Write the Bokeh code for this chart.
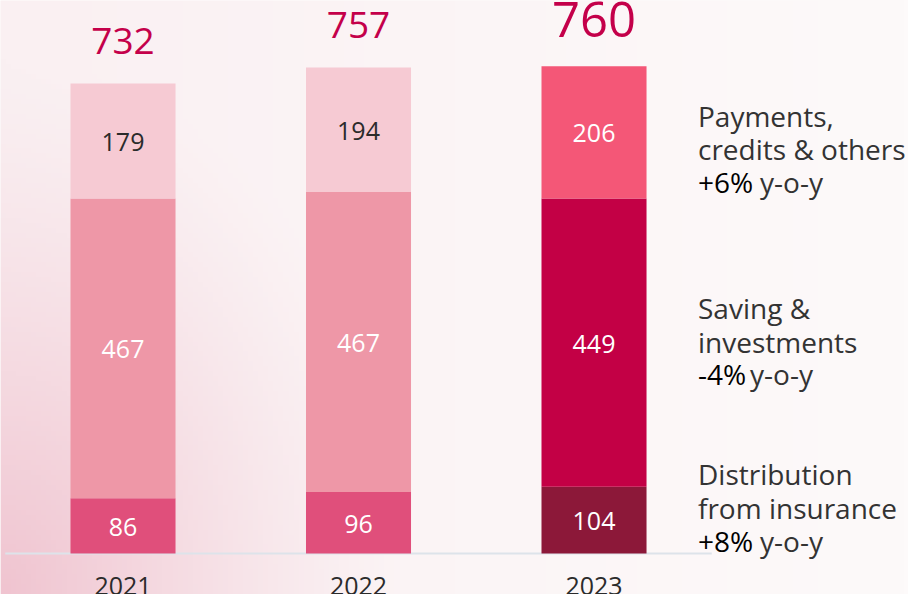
import numpy as np
from bokeh.plotting import figure
from bokeh.models import Range1d, ColumnDataSource
from bokeh.core.properties import value
from bokeh.embed import file_html
from bokeh.resources import INLINE

# ---- data ----
years = ["2021", "2022", "2023"]
insurance = [86, 96, 104]
saving = [467, 467, 449]
payments = [179, 194, 206]
totals = [732, 757, 760]

series_names = ["Distribution\nfrom insurance", "Saving &\ninvestments", "Payments,\ncredits & others"]
yoy_change = ["+8%", "-4%", "+6%"]

# ---- styles ----
FONT = value("Open Sans")
ins_colors = ["#e04f7b", "#e04f7b", "#8c1839"]
sav_colors = ["#ee97a7", "#ee97a7", "#c30045"]
pay_colors = ["#f6cad3", "#f6cad3", "#f45777"]
ins_text = ["white", "white", "white"]
sav_text = ["white", "white", "white"]
pay_text = ["#2b2b2b", "#2b2b2b", "white"]
TOTAL_COLOR = "#c4004a"

W, H = 908, 594
xs = list(range(len(years)))
x0, x1 = -0.5202, 3.3354
y0, y1 = -63.8, 861.4

p = figure(width=W, height=H, x_range=Range1d(x0, x1), y_range=Range1d(y0, y1),
           x_axis_type=None, y_axis_type=None, output_backend="svg",
           toolbar_location=None, min_border=0)
p.grid.visible = False
p.outline_line_color = None
p.background_fill_color = "#fcf6f6"
p.border_fill_color = "#fcf6f6"

# background gradient (decoration)
ny, nx = 120, 180
gx = np.linspace(0, 1, nx)[None, :]
gy = np.linspace(0, 1, ny)[:, None]  # 0 bottom, 1 top
base = np.stack([
    250 + 3 * gx + 0 * gy,
    240 + 10 * gx + 0 * gy,
    242 + 8 * gx + 0 * gy,
], axis=-1)
d = np.sqrt((gx / 0.45) ** 2 + (gy / 0.9) ** 2)
w = np.clip(1 - d, 0, 1) ** 1.3
pink = np.array([240, 196, 208])
img = base * (1 - w[..., None]) + pink * w[..., None]
rgba = np.zeros((ny, nx), dtype=np.uint32)
view = rgba.view(dtype=np.uint8).reshape((ny, nx, 4))
view[..., 0] = img[..., 0].astype(np.uint8)
view[..., 1] = img[..., 1].astype(np.uint8)
view[..., 2] = img[..., 2].astype(np.uint8)
view[..., 3] = 255
p.image_rgba(image=[rgba], x=x0, y=y0, dw=x1 - x0, dh=y1 - y0)

# baseline
p.segment(x0=[-0.5], y0=[0], x1=[len(years) - 0.5], y1=[0], line_color="#dde3ea", line_width=2)

ins_top = [a for a in insurance]
sav_top = [a + b for a, b in zip(insurance, saving)]
pay_top = [a + b + c for a, b, c in zip(insurance, saving, payments)]

src = ColumnDataSource(dict(
    x=xs,
    ins_b=[0] * len(xs), ins_t=ins_top, ins_mid=[(0 + t) / 2 for t in ins_top],
    sav_b=ins_top, sav_t=sav_top, sav_mid=[(a + b) / 2 for a, b in zip(ins_top, sav_top)],
    pay_b=sav_top, pay_t=pay_top, pay_mid=[(a + b) / 2 for a, b in zip(sav_top, pay_top)],
    ins=[str(v) for v in insurance], sav=[str(v) for v in saving], pay=[str(v) for v in payments],
    ins_c=ins_colors, sav_c=sav_colors, pay_c=pay_colors,
    ins_tc=ins_text, sav_tc=sav_text, pay_tc=pay_text,
    year=years, zero=[0] * len(xs),
))

BW = 0.446
for seg in ["ins", "sav", "pay"]:
    p.vbar(x="x", bottom=seg + "_b", top=seg + "_t", width=BW, source=src,
           fill_color=seg + "_c", line_color=None)
    p.text(x="x", y=seg + "_mid", text=seg, source=src, text_font=FONT,
           text_font_size="25px", text_color=seg + "_tc", text_align="center",
           text_baseline="alphabetic", y_offset=1)

# totals
tot1 = ColumnDataSource(dict(x=xs[:2], y=pay_top[:2], t=[str(v) for v in totals[:2]]))
p.text(x="x", y="y", text="t", source=tot1, text_font=FONT, text_font_size="37px",
       text_color=TOTAL_COLOR, text_align="center", text_baseline="alphabetic", y_offset=-43)
tot2 = ColumnDataSource(dict(x=xs[2:], y=pay_top[2:], t=[str(v) for v in totals[2:]]))
p.text(x="x", y="y", text="t", source=tot2, text_font=FONT, text_font_size="49px",
       text_color=TOTAL_COLOR, text_align="center", text_baseline="alphabetic", y_offset=-47)

# year labels
p.text(x="x", y="zero", text="year", source=src, text_font=FONT, text_font_size="25px",
       text_color="#2b2b2b", text_align="center", text_baseline="alphabetic", y_offset=32)

# right-side series labels, anchored to the 2023 segments
last = len(years) - 1
anchors = [src.data["ins_mid"][last], src.data["sav_mid"][last], src.data["pay_mid"][last]]
line_offsets = [(-46, -12, 21), (-35, -1, 31), (-16, 17, 50)]
yoy_dx = [62, 52, 62]
LX = 104
for name, chg, yv, offs, dx in zip(series_names, yoy_change, anchors, line_offsets, yoy_dx):
    l1, l2 = name.split("\n")
    for txt, off in [(l1, offs[0]), (l2, offs[1])]:
        p.text(x=[last], y=[yv], text=[txt], text_font=FONT, text_font_size="28px",
               text_color="#333333", text_align="left", text_baseline="alphabetic",
               x_offset=LX, y_offset=off)
    p.text(x=[last], y=[yv], text=[chg], text_font=FONT, text_font_size="28px",
           text_color="#000000", text_align="left", text_baseline="alphabetic",
           x_offset=LX, y_offset=offs[2])
    p.text(x=[last], y=[yv], text=["y-o-y"], text_font=FONT, text_font_size="28px",
           text_color="#333333", text_align="left", text_baseline="alphabetic",
           x_offset=LX + dx, y_offset=offs[2])

open("out.html", "w").write(file_html(p, INLINE))
